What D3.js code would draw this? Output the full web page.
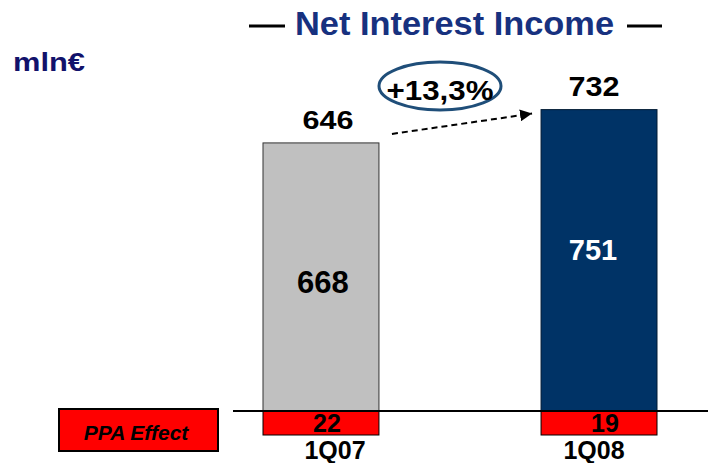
<!DOCTYPE html>
<html>
<head>
<meta charset="utf-8">
<script src="https://cdn.jsdelivr.net/npm/d3@7"></script>
<style>
  html, body { margin: 0; padding: 0; background: #fff; }
  svg { display: block; font-family: Arial, "Liberation Sans", sans-serif; font-weight: bold; }
</style>
</head>
<body>
<svg id="chart" width="708" height="463"></svg>
<script>
// chart data
const categories = ["1Q07", "1Q08"];
const grossValues = [668, 751];   // before PPA
const ppaValues = [22, 19];       // PPA effect (drawn below the line)
const netValues = [646, 732];     // net interest income
const growthLabel = "+13,3%";
const titleText = "Net Interest Income";
const unitText = "mln€";
const ppaLabel = "PPA Effect";

const barColors = ["#c0c0c0", "#003366"];
const grossTextColors = ["#000", "#fff"];

const width = 708, height = 463;
const baseY = 411;
const ppaH = 24;

const svg = d3.select("#chart");

// scales
const x = d3.scaleBand()
  .domain(categories)
  .range([263, 657])
  .paddingInner(0.583)
  .paddingOuter(0);

const y = d3.scaleLinear()
  .domain([0, 760])
  .range([baseY, 106]);

// title
svg.append("text")
  .attr("x", 454.5).attr("y", 35)
  .attr("text-anchor", "middle")
  .attr("font-size", 33)
  .attr("textLength", 319).attr("lengthAdjust", "spacingAndGlyphs")
  .attr("fill", "#17317f")
  .text(titleText);

// dashes either side of the title
svg.selectAll("line.dash")
  .data([[249, 285], [627, 662]])
  .enter().append("line")
  .attr("x1", d => d[0]).attr("x2", d => d[1])
  .attr("y1", 26).attr("y2", 26)
  .attr("stroke", "#000").attr("stroke-width", 3);

// unit
svg.append("text")
  .attr("x", 13).attr("y", 71)
  .attr("font-size", 25)
  .attr("textLength", 72).attr("lengthAdjust", "spacingAndGlyphs")
  .attr("fill", "#12126b")
  .text(unitText);

const data = categories.map((c, i) => ({
  cat: c, gross: grossValues[i], ppa: ppaValues[i], net: netValues[i], i: i
}));

// main bars
svg.selectAll("rect.bar")
  .data(data)
  .enter().append("rect")
  .attr("class", "bar")
  .attr("x", d => x(d.cat))
  .attr("y", d => y(d.gross))
  .attr("width", x.bandwidth())
  .attr("height", d => baseY - y(d.gross))
  .attr("fill", d => barColors[d.i])
  .attr("stroke", d => d.i === 0 ? "#333" : "#001a33")
  .attr("stroke-width", 1);

// PPA segments below the line
svg.selectAll("rect.ppa")
  .data(data)
  .enter().append("rect")
  .attr("class", "ppa")
  .attr("x", d => x(d.cat))
  .attr("y", baseY)
  .attr("width", x.bandwidth())
  .attr("height", ppaH)
  .attr("fill", "#ff0000")
  .attr("stroke", "#000")
  .attr("stroke-width", 1);

// baseline
svg.append("line")
  .attr("x1", 233).attr("x2", width)
  .attr("y1", baseY).attr("y2", baseY)
  .attr("stroke", "#000").attr("stroke-width", 2);

// PPA value labels
svg.selectAll("text.ppaval")
  .data(data)
  .enter().append("text")
  .attr("x", d => x(d.cat) + x.bandwidth() / 2 + 6)
  .attr("y", baseY + 21)
  .attr("text-anchor", "middle")
  .attr("font-size", 25)
  .text(d => d.ppa);

// gross value labels inside bars
svg.selectAll("text.gross")
  .data(data)
  .enter().append("text")
  .attr("x", d => x(d.cat) + x.bandwidth() / 2 + (d.i === 0 ? 2 : -6))
  .attr("y", d => y(d.gross) + 150)
  .attr("text-anchor", "middle")
  .attr("font-size", d => d.i === 0 ? 31 : 29)
  .attr("fill", d => grossTextColors[d.i])
  .text(d => d.gross);

// net value labels above bars
svg.selectAll("text.net")
  .data(data)
  .enter().append("text")
  .attr("x", d => x(d.cat) + x.bandwidth() / 2 + (d.i === 0 ? 7 : -5))
  .attr("y", d => y(d.gross) - 14)
  .attr("text-anchor", "middle")
  .attr("font-size", d => d.i === 0 ? 25 : 27)
  .attr("textLength", 51).attr("lengthAdjust", "spacingAndGlyphs")
  .text(d => d.net);

// category labels
svg.selectAll("text.cat")
  .data(data)
  .enter().append("text")
  .attr("x", d => x(d.cat) + x.bandwidth() / 2 + (d.i === 0 ? 14 : -5))
  .attr("y", 459)
  .attr("text-anchor", "middle")
  .attr("font-size", 25)
  .text(d => d.cat);

// growth arrow
svg.append("defs").append("marker")
  .attr("id", "arrow")
  .attr("viewBox", "0 0 10 10")
  .attr("refX", 10).attr("refY", 5)
  .attr("markerWidth", 6).attr("markerHeight", 6)
  .attr("markerUnits", "strokeWidth")
  .attr("orient", "auto")
  .append("path")
  .attr("d", "M0,0 L10,5 L0,10 Z")
  .attr("fill", "#000");

const x0 = x(categories[0]) + x.bandwidth();
const x1 = x(categories[1]);
svg.append("line")
  .attr("x1", x0 + 13).attr("y1", y(grossValues[0]) - 9)
  .attr("x2", x1 - 9).attr("y2", y(grossValues[1]) + 4)
  .attr("stroke", "#000").attr("stroke-width", 2)
  .attr("stroke-dasharray", "6,4")
  .attr("marker-end", "url(#arrow)");

// growth label in ellipse
svg.append("ellipse")
  .attr("cx", 440).attr("cy", 86)
  .attr("rx", 61).attr("ry", 24)
  .attr("fill", "none")
  .attr("stroke", "#1f4e79").attr("stroke-width", 3);

svg.append("text")
  .attr("x", 440).attr("y", 100)
  .attr("text-anchor", "middle")
  .attr("font-size", 28)
  .attr("textLength", 107).attr("lengthAdjust", "spacingAndGlyphs")
  .text(growthLabel);

// PPA legend box
svg.append("rect")
  .attr("x", 59).attr("y", 409)
  .attr("width", 159).attr("height", 42)
  .attr("fill", "#ff0000")
  .attr("stroke", "#000").attr("stroke-width", 2);

svg.append("text")
  .attr("x", 136).attr("y", 440)
  .attr("text-anchor", "middle")
  .attr("font-size", 21)
  .attr("font-style", "italic")
  .text(ppaLabel);
</script>
</body>
</html>
